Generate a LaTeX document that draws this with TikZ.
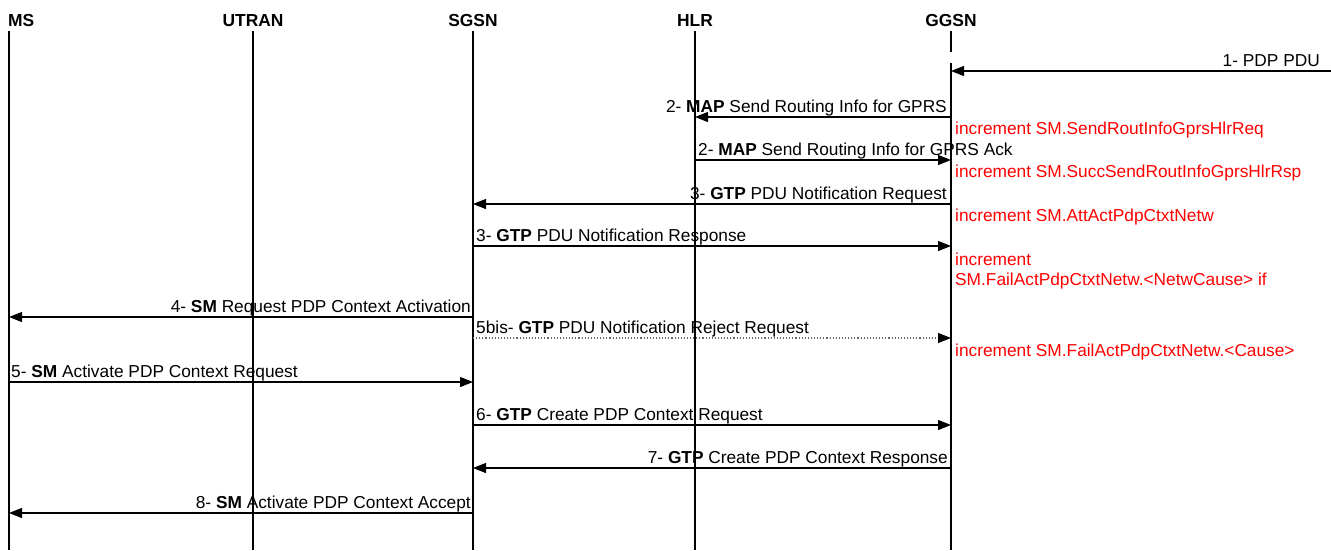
\documentclass[tikz,border=0pt]{standalone}
\usepackage{fontspec}
\setmainfont{Liberation Sans}
\usetikzlibrary{arrows.meta}
\begin{document}
\begin{tikzpicture}[x=1pt,y=-1pt,
  lifeline/.style={line width=2pt},
  msg/.style={line width=1.1pt,-{Triangle[length=13pt,width=10pt]}},
  dotmsg/.style={line width=1.1pt,dotted,black!60,-{Triangle[length=13pt,width=10pt,color=black,fill=black]}},
  hdr/.style={font=\fontsize{17.4}{20}\selectfont\bfseries,inner sep=0pt,anchor=base},
  lbl/.style={font=\fontsize{17.3}{20}\selectfont,inner sep=0pt},
  cnt/.style={font=\fontsize{17.3}{20}\selectfont,inner sep=0pt,text=red,anchor=base west}]
\useasboundingbox (0,0) rectangle (1331,550);
% lifelines
\coordinate (ms) at (9,31);
\coordinate (utran) at (253,31);
\coordinate (sgsn) at (473,31);
\coordinate (hlr) at (695,31);
\coordinate (ggsn) at (951,31);
\coordinate (bottom) at (0,550);
\coordinate (edge) at (1331,0);
\node[hdr,anchor=base west] (hms) at (8,26) {MS};
\node[hdr] (hutran) at (253,26) {UTRAN};
\node[hdr] (hsgsn) at (473,26) {SGSN};
\node[hdr] (hhlr) at (695,26) {HLR};
\node[hdr] (hggsn) at (951,26) {GGSN};
\draw[lifeline] (ms) -- (ms |- bottom);
\draw[lifeline] (utran) -- (utran |- bottom);
\draw[lifeline] (sgsn) -- (sgsn |- bottom);
\draw[lifeline] (hlr) -- (hlr |- bottom);
\coordinate (gbreak1) at (951,52);
\coordinate (gbreak2) at (951,63);
\draw[lifeline] (ggsn) -- (gbreak1);
\draw[lifeline] (gbreak2) -- (ggsn |- bottom);
% message rows
\coordinate (y1) at (0,71);
\coordinate (y2) at (0,117);
\coordinate (y3) at (0,160);
\coordinate (y4) at (0,204);
\coordinate (y5) at (0,246);
\coordinate (y6) at (0,317);
\coordinate (y7) at (0,338);
\coordinate (y8) at (0,382);
\coordinate (y9) at (0,425);
\coordinate (y10) at (0,468);
\coordinate (y11) at (0,513);
% 1
\draw[msg] (edge |- y1) -- (ggsn |- y1);
\node[lbl,anchor=base east] (l1) at (1320,66.5) {1- PDP PDU};
% 2
\draw[msg] (ggsn |- y2) -- (hlr |- y2);
\node[lbl,anchor=base east] (l2) at (947,112.5) {2- \textbf{MAP} Send Routing Info for GPRS};
\node[cnt] (c1) at (955,134) {increment SM.SendRoutInfoGprsHlrReq};
% 2 ack
\draw[msg] (hlr |- y3) -- (ggsn |- y3);
\node[lbl,anchor=base west] (l3) at (698,155.5) {2- \textbf{MAP} Send Routing Info for GPRS Ack};
\node[cnt] (c2) at (955,177) {increment SM.SuccSendRoutInfoGprsHlrRsp};
% 3 req
\draw[msg] (ggsn |- y4) -- (sgsn |- y4);
\node[lbl,anchor=base east] (l4) at (947,199.5) {3- \textbf{GTP} PDU Notification Request};
\node[cnt] (c3) at (955,221) {increment SM.AttActPdpCtxtNetw};
% 3 resp
\draw[msg] (sgsn |- y5) -- (ggsn |- y5);
\node[lbl,anchor=base west] (l5) at (476,241.5) {3- \textbf{GTP} PDU Notification Response};
\node[cnt] (c4) at (955,265) {increment};
\node[cnt] (c5) at (955,285.5) {SM.FailActPdpCtxtNetw.<NetwCause> if};
% 4
\draw[msg] (sgsn |- y6) -- (ms |- y6);
\node[lbl,anchor=base east] (l6) at (471,312.5) {4- \textbf{SM} Request PDP Context Activation};
% 5bis
\draw[dotmsg] (sgsn |- y7) -- (ggsn |- y7);
\node[lbl,anchor=base west] (l7) at (476,333.5) {5bis- \textbf{GTP} PDU Notification Reject Request};
\node[cnt] (c6) at (955,356) {increment SM.FailActPdpCtxtNetw.<Cause>};
% 5
\draw[msg] (ms |- y8) -- (sgsn |- y8);
\node[lbl,anchor=base west] (l8) at (11,377.5) {5- \textbf{SM} Activate PDP Context Request};
% 6
\draw[msg] (sgsn |- y9) -- (ggsn |- y9);
\node[lbl,anchor=base west] (l9) at (476,420.5) {6- \textbf{GTP} Create PDP Context Request};
% 7
\draw[msg] (ggsn |- y10) -- (sgsn |- y10);
\node[lbl,anchor=base east] (l10) at (948,463.5) {7- \textbf{GTP} Create PDP Context Response};
% 8
\draw[msg] (sgsn |- y11) -- (ms |- y11);
\node[lbl,anchor=base east] (l11) at (471,508.5) {8- \textbf{SM} Activate PDP Context Accept};
\end{tikzpicture}
\end{document}
